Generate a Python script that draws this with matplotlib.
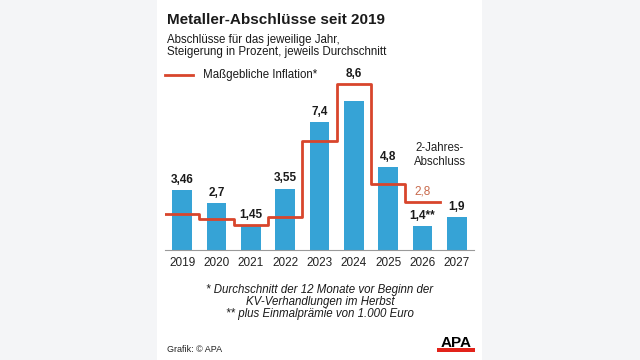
import matplotlib
matplotlib.use('Agg')
import matplotlib.pyplot as plt
from matplotlib.patches import Rectangle
import numpy as np

plt.rcParams['font.family'] = ['Liberation Sans', 'DejaVu Sans']

# Daten
years = ['2019', '2020', '2021', '2022', '2023', '2024', '2025', '2026', '2027']
abschluss = [3.46, 2.7, 1.45, 3.55, 7.4, 8.6, 4.8, 1.4, 1.9]
abschluss_labels = ['3,46', '2,7', '1,45', '3,55', '7,4', '8,6', '4,8', '1,4**', '1,9']
inflation = [2.1, 1.8, 1.45, 1.9, 6.3, 9.6, 3.8, 2.8]

blue = '#36a3d6'
red = '#d8452c'

W, H = 640, 360
fig = plt.figure(figsize=(6.4, 3.6), dpi=100)
fig.patch.set_facecolor('#f4f5f7')


def fx(px):
    return px / W


def fy(py):
    return 1 - py / H


# weisse Karte
fig.patches.append(Rectangle((fx(157), 0), fx(482) - fx(157), 1,
                             transform=fig.transFigure, facecolor='white',
                             edgecolor='none', zorder=-10))

# Achse: x von -0.5 bis 8.5 -> 165..474 px, Basislinie bei 250 px, 17.3 px pro Prozentpunkt
ax = fig.add_axes([fx(165), fy(250), fx(474) - fx(165), 173 / H])
ax.set_zorder(1)
ax.set_xlim(-0.5, 8.5)
ax.set_ylim(0, 10)
ax.patch.set_alpha(0)

x = np.arange(len(years))
ax.bar(x, abschluss, width=0.58, color=blue, zorder=2)

# Inflationslinie als Treppe
xs = np.arange(len(inflation) + 1) - 0.5
ys = list(inflation) + [inflation[-1]]
ax.step(xs, ys, where='post', color=red, lw=2, zorder=3)

for i, (v, lab) in enumerate(zip(abschluss, abschluss_labels)):
    top = v
    if i == 5:
        top = inflation[i]
    ax.annotate(lab, (i, top), xytext=(0, 3), textcoords='offset points',
                ha='center', va='bottom', fontsize=8.5, fontweight='bold',
                color='#1a1a1a', zorder=4)

ax.annotate('2,8', (7, inflation[7]), xytext=(0, 3), textcoords='offset points',
            ha='center', va='bottom', fontsize=8.5, color='#c8694b')
ax.text(7.5, 5.5, '2-Jahres-\nAbschluss', ha='center', va='center',
        fontsize=8.3, color='#222222', linespacing=1.25)

for s in ['top', 'right', 'left']:
    ax.spines[s].set_visible(False)
ax.spines['bottom'].set_color('#9a9a9a')
ax.spines['bottom'].set_linewidth(0.8)
ax.set_yticks([])
ax.set_xticks(x)
ax.set_xticklabels(years, fontsize=8.5, color='#222222')
ax.tick_params(axis='x', length=0, pad=5)

# Titel und Untertitel
fig.text(fx(167), fy(20), 'Metaller-Abschlüsse seit 2019', fontsize=11,
         fontweight='bold', color='#1a1a1a', va='center', ha='left')
fig.text(fx(167), fy(40), 'Abschlüsse für das jeweilige Jahr,', fontsize=8.3,
         color='#1a1a1a', va='center', ha='left')
fig.text(fx(167), fy(52), 'Steigerung in Prozent, jeweils Durchschnitt', fontsize=8.3,
         color='#1a1a1a', va='center', ha='left')

# Legende
fig.lines.append(plt.Line2D([fx(165), fx(193)], [fy(75), fy(75)],
                            transform=fig.transFigure, color=red, lw=2))
fig.text(fx(203), fy(75), 'Maßgebliche Inflation*', fontsize=8.3,
         color='#1a1a1a', va='center', ha='left')

# Fussnoten
notes = ['* Durchschnitt der 12 Monate vor Beginn der',
         'KV-Verhandlungen im Herbst',
         '** plus Einmalprämie von 1.000 Euro']
for k, n in enumerate(notes):
    fig.text(fx(320), fy(290 + 12 * k), n, fontsize=8.3, style='italic',
             color='#1a1a1a', va='center', ha='center')

fig.text(fx(167), fy(349), 'Grafik: © APA', fontsize=6.5, color='#222222',
         va='center', ha='left')

# APA Logo
fig.text(fx(456), fy(343), 'APA', fontsize=11, fontweight='bold', color='black',
         va='center', ha='center')
fig.patches.append(Rectangle((fx(437), fy(352)), fx(475) - fx(437), 4 / H,
                             transform=fig.transFigure, facecolor='#e2231a',
                             edgecolor='none'))

fig.savefig('out.png', dpi=100, facecolor=fig.get_facecolor())
